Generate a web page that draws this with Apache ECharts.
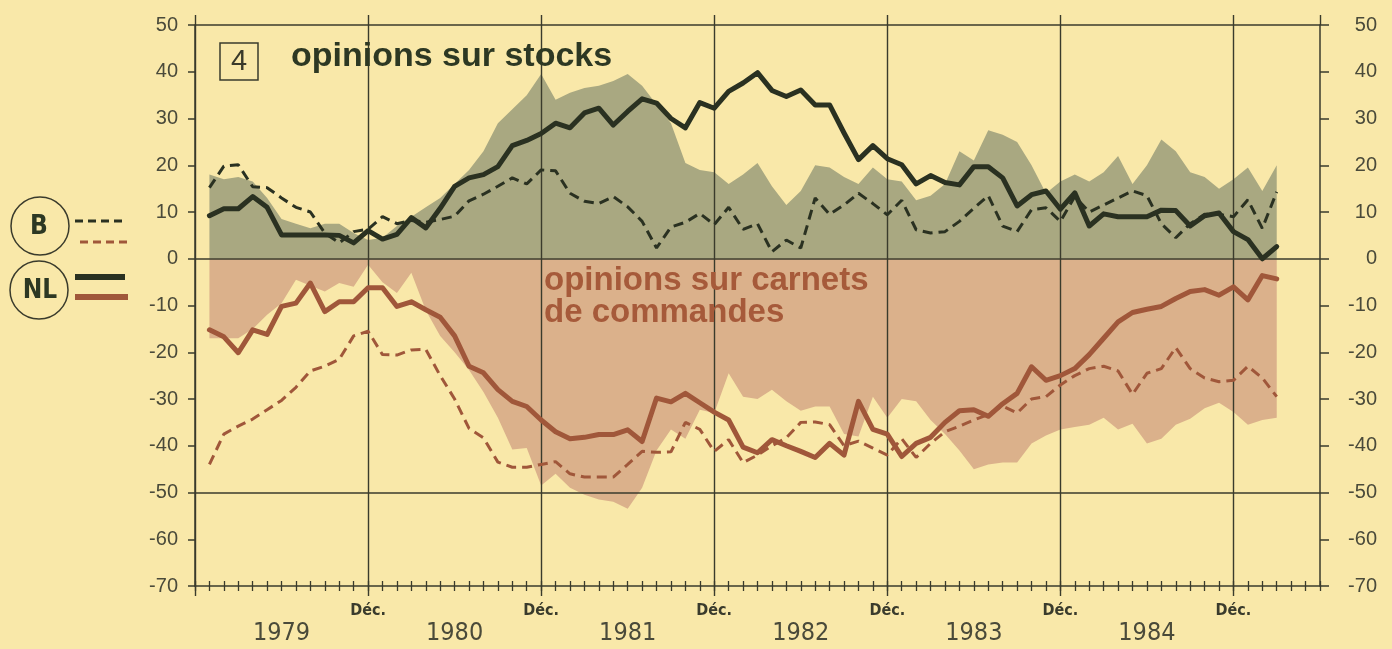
<!DOCTYPE html>
<html>
<head>
<meta charset="utf-8">
<script src="https://cdn.jsdelivr.net/npm/echarts@6/dist/echarts.min.js"></script>
<style>
html,body{margin:0;padding:0;background:#f9e8a9;}
#chart{width:1392px;height:649px;}
</style>
</head>
<body>
<div id="chart"></div>
<script>
// ---- Data (monthly, Jan 1979 .. Mar 1985) ----
const yearLabels = ['1979', '1980', '1981', '1982', '1983', '1984'];
const yTicks = [-70, -60, -50, -40, -30, -20, -10, 0, 10, 20, 30, 40, 50];

// shaded area: opinions sur stocks (upper, green)
const stocksArea = [
  18, 17, 17.5, 16.5, 13, 8.5, 7.5, 6.5, 7.5, 7.5, 5.5, 4,
  4.5, 7, 9, 11, 13, 16, 19, 23, 29, 32, 35, 39.5,
  34, 35.5, 36.5, 37, 38, 39.5, 37, 33, 29, 20.5, 19, 18.5,
  16, 18, 20.5, 15.5, 11.5, 14.5, 20, 19.5, 17.5, 16, 19.5, 17,
  16.5, 12.5, 13.5, 16, 23, 21, 27.5, 26.5, 25, 20, 14, 16.5,
  18, 16.5, 18.5, 22, 16, 20, 25.5, 23, 18.5, 17.5, 15, 17,
  19.5, 14.5, 20
];
// shaded area: opinions sur carnets de commandes (lower, brown)
const carnetsArea = [
  -17, -17, -17, -15, -12, -9.5, -4.5, -5.8, -7, -5.2, -6, -1.3,
  -5, -7.3, -3, -11, -16.5, -20, -23.8, -28.5, -34, -40.8, -40.5, -48.5,
  -46, -49, -50.5, -51.5, -52, -53.5, -49, -41, -36.5, -38.5, -32.3, -33,
  -24.5, -29.5, -30, -28, -30.5, -32.5, -31.6, -31.6, -37.5, -38, -29.5, -34,
  -30, -30.5, -34.5, -37.5, -41, -45, -44, -43.6, -43.6, -39.5, -37.8, -36.5,
  -36, -35.5, -34, -36.5, -35.3, -39.5, -38.5, -35.5, -34.2, -32, -30.8, -32.8,
  -35.5, -34.5, -34
];
// NL - stocks (solid black)
const stocksNL = [
  9.2, 10.7, 10.7, 13.3, 11, 5.1, 5.1, 5.1, 5.1, 5, 3.4, 6,
  4.2, 5.2, 8.8, 6.6, 10.8, 15.5, 17.3, 18, 19.7, 24.2, 25.3, 26.8,
  29, 28, 31.2, 32.2, 28.6, 31.5, 34.2, 33.3, 30, 28, 33.4, 32.2,
  35.8, 37.6, 39.8, 36, 34.7, 36.1, 32.9, 32.9, 26.9, 21.2, 24.2, 21.4,
  20.1, 16, 17.8, 16.3, 15.8, 19.7, 19.7, 17.3, 11.3, 13.7, 14.5, 10.6,
  14.1, 7, 9.6, 9, 9, 9, 10.4, 10.3, 7, 9.2, 9.8, 5.8,
  4.1, 0, 2.6
];
// B - stocks (dashed black)
const stocksB = [
  15.2, 19.8, 20.1, 15.4, 15.2, 13, 11, 10, 5.5, 3.4, 5.8, 6.3,
  9, 7.5, 8.2, 7.8, 8.4, 9.1, 12.4, 13.8, 15.5, 17.3, 16, 19,
  18.8, 14, 12.3, 11.8, 13.3, 11.1, 8, 2.3, 6.8, 7.8, 9.7, 7.3,
  11, 6.3, 7.5, 1.5, 4, 2.3, 13, 9.5, 11.5, 14, 11.8, 9.4,
  12.5, 6.2, 5.5, 5.8, 8, 10.8, 13.5, 7, 5.8, 10.5, 10.9, 8,
  13.3, 10, 11.5, 13, 14.5, 13.5, 7.5, 4.5, 7.5, 9.5, 9.5, 9,
  12.6, 6.5, 14.3
];
// NL - carnets de commandes (solid brown)
const carnetsNL = [
  -15.2, -16.7, -20.1, -15.2, -16.2, -10.2, -9.5, -5.2, -11.3, -9.2, -9.2, -6.2,
  -6.2, -10.2, -9.2, -10.9, -12.5, -16.5, -23, -24.4, -28, -30.5, -31.6, -34.5,
  -37, -38.5, -38.2, -37.6, -37.6, -36.6, -39.1, -29.8, -30.6, -28.8, -30.8, -32.8,
  -34.5, -40.3, -41.5, -38.7, -40, -41.2, -42.5, -39.5, -42, -30.5, -36.5, -37.5,
  -42.3, -39.5, -38.2, -35, -32.5, -32.3, -33.7, -31, -28.8, -23.1, -26, -25,
  -23.5, -20.5, -17, -13.5, -11.5, -10.8, -10.2, -8.5, -7, -6.6, -7.8, -6,
  -8.8, -3.6, -4.3
];
// B - carnets de commandes (dashed brown)
const carnetsB = [
  -44, -37.5, -35.8, -34.3, -32.3, -30.3, -27.5, -24, -23, -21.5, -16.5, -15.5,
  -20.5, -20.6, -19.5, -19.4, -25, -30, -36.3, -38.3, -43.5, -44.6, -44.6, -44,
  -43.4, -46, -46.7, -46.7, -46.7, -44, -41.2, -41.4, -41.3, -35, -36.5, -41.2,
  -38.7, -43.6, -42, -40, -38.3, -35, -34.9, -35.5, -40, -39, -40.5, -42,
  -38.5, -42.5, -39.5, -37, -35.8, -34.5, -33.3, -31.5, -33, -30, -29.5, -27,
  -25, -23.5, -23, -24, -29, -24.5, -23.5, -19, -23.5, -25.5, -26.3, -26,
  -23, -25.5, -29.5
];

// ---- Category axis: Dec 1978 .. Jun 1985 (79 months) ----
const monthNames = ['Déc.', 'janv.', 'févr.', 'mars', 'avr.', 'mai', 'juin', 'juil.', 'août', 'sept.', 'oct.', 'nov.'];
const categories = [];
for (let i = 0; i <= 78; i++) {
  categories.push(monthNames[i % 12] + ' ' + (1978 + Math.ceil(i / 12)));
}
function pad(arr) { return [null].concat(arr, [null, null, null]); }

const INK = '#3a3b2c';
const BLACK = '#2a3121';
const BROWN = '#a0573a';
const GREEN_FILL = '#a9a881';
const BROWN_FILL = '#dbb18b';
const narrow = "'Liberation Sans Narrow', 'DejaVu Sans Condensed', 'Liberation Sans', sans-serif";
const sans = "'Liberation Sans', Arial, sans-serif";

const isDec = (i) => i % 12 === 0;

const chart = echarts.init(document.getElementById('chart'), null, { renderer: 'canvas' });
const option = {
  backgroundColor: '#f9e8a9',
  animation: false,
  grid: { left: 195, right: 72, top: 25, bottom: 63, containLabel: false },
  xAxis: [
    { // main bottom axis: monthly ticks outward, Déc. labels, Dec grid lines
      type: 'category', position: 'bottom', data: categories, boundaryGap: false, z: 2,
      axisLine: { show: true, onZero: false, lineStyle: { color: INK, width: 1.5 } },
      axisTick: { show: true, interval: 0, length: 5, lineStyle: { color: INK, width: 1.3 } },
      axisLabel: {
        interval: (i) => isDec(i) && i > 0, formatter: () => 'Déc.',
        margin: 17, color: INK, fontFamily: narrow, fontWeight: 'bold', fontSize: 16
      },
      splitLine: { show: true, interval: (i) => isDec(i), lineStyle: { color: INK, width: 1.4 } }
    },
    { // inward monthly ticks + year labels
      type: 'category', position: 'bottom', data: categories, boundaryGap: false, z: 2,
      axisLine: { show: false, onZero: false },
      axisTick: { show: true, inside: true, interval: 0, length: 5, lineStyle: { color: INK, width: 1.3 } },
      axisLabel: {
        interval: (i) => i % 12 === 6, formatter: (v, i) => yearLabels[(i - 6) / 12],
        margin: 35, color: '#4a4a3a', fontFamily: narrow, fontSize: 25
      },
      splitLine: { show: false }
    },
    { // long December ticks below the axis
      type: 'category', position: 'bottom', data: categories, boundaryGap: false, z: 2,
      axisLine: { show: false, onZero: false },
      axisTick: { show: true, interval: (i) => isDec(i), length: 10, lineStyle: { color: INK, width: 1.4 } },
      axisLabel: { show: false }, splitLine: { show: false }
    },
    { // extensions of the vertical lines above the top line
      type: 'category', position: 'top', data: categories, boundaryGap: false, z: 2,
      axisLine: { show: false, onZero: false },
      axisTick: { show: true, interval: (i) => isDec(i) || i === 78, length: 10, lineStyle: { color: INK, width: 1.4 } },
      axisLabel: { show: false }, splitLine: { show: false }
    }
  ],
  yAxis: [
    {
      type: 'value', position: 'left', min: yTicks[0], max: yTicks[yTicks.length - 1], interval: 10, z: 2,
      axisLine: { show: true, onZero: false, lineStyle: { color: INK, width: 1.5 } },
      axisTick: { show: true, length: 7, lineStyle: { color: INK, width: 1.5 } },
      axisLabel: { margin: 17, color: '#4a4a3a', fontFamily: sans, fontSize: 20 },
      splitLine: {
        show: true,
        lineStyle: { color: ['rgba(0,0,0,0)', 'rgba(0,0,0,0)', INK, 'rgba(0,0,0,0)', 'rgba(0,0,0,0)'], width: 1.5 }
      }
    },
    {
      type: 'value', position: 'right', min: yTicks[0], max: yTicks[yTicks.length - 1], interval: 10, z: 2,
      axisLine: { show: true, onZero: false, lineStyle: { color: INK, width: 1.5 } },
      axisTick: { show: true, length: 9, lineStyle: { color: INK, width: 1.5 } },
      axisLabel: { margin: 57, align: 'right', color: '#4a4a3a', fontFamily: sans, fontSize: 20 },
      splitLine: { show: false }
    }
  ],
  series: [
    {
      name: 'stocks (zone)', type: 'line', data: pad(stocksArea), symbol: 'none', z: 1,
      lineStyle: { width: 0, opacity: 0 }, areaStyle: { color: GREEN_FILL, opacity: 1 }
    },
    {
      name: 'carnets (zone)', type: 'line', data: pad(carnetsArea), symbol: 'none', z: 1,
      lineStyle: { width: 0, opacity: 0 }, areaStyle: { color: BROWN_FILL, opacity: 1 }
    },
    {
      name: 'B stocks', type: 'line', data: pad(stocksB), symbol: 'none', z: 3,
      lineStyle: { color: BLACK, width: 3, type: [10, 6] }
    },
    {
      name: 'B carnets', type: 'line', data: pad(carnetsB), symbol: 'none', z: 3,
      lineStyle: { color: BROWN, width: 3, type: [10, 6] }
    },
    {
      name: 'NL stocks', type: 'line', data: pad(stocksNL), symbol: 'none', z: 4,
      lineStyle: { color: BLACK, width: 5, join: 'round', cap: 'round' }
    },
    {
      name: 'NL carnets', type: 'line', data: pad(carnetsNL), symbol: 'none', z: 4,
      lineStyle: { color: BROWN, width: 5, join: 'round', cap: 'round' }
    }
  ],
  graphic: [
    // boxed number
    { type: 'rect', shape: { x: 220, y: 43, width: 38, height: 37 }, style: { fill: 'none', stroke: INK, lineWidth: 1.5 }, z: 10 },
    { type: 'text', x: 239, y: 62, style: { text: '4', fontFamily: sans, fontSize: 29, fill: '#3a3a2a', align: 'center', verticalAlign: 'middle' }, z: 10 },
    // titles
    { type: 'text', x: 291, y: 57, style: { text: 'opinions sur stocks', fontFamily: sans, fontWeight: 'bold', fontSize: 34, fill: '#2d3823', verticalAlign: 'middle' }, z: 10 },
    { type: 'text', x: 544, y: 281, style: { text: 'opinions sur carnets', fontFamily: sans, fontWeight: 'bold', fontSize: 33, fill: '#a65a3a', verticalAlign: 'middle' }, z: 10 },
    { type: 'text', x: 544, y: 313, style: { text: 'de commandes', fontFamily: sans, fontWeight: 'bold', fontSize: 33, fill: '#a65a3a', verticalAlign: 'middle' }, z: 10 },
    // legend
    { type: 'circle', shape: { cx: 40, cy: 226, r: 29 }, style: { fill: 'none', stroke: INK, lineWidth: 1.5 } },
    { type: 'text', x: 39, y: 227, style: { text: 'B', fontFamily: narrow, fontWeight: 'bold', fontSize: 26, fill: '#2d3823', align: 'center', verticalAlign: 'middle' } },
    { type: 'circle', shape: { cx: 39, cy: 290, r: 29 }, style: { fill: 'none', stroke: INK, lineWidth: 1.5 } },
    { type: 'text', x: 40, y: 291, style: { text: 'NL', fontFamily: narrow, fontWeight: 'bold', fontSize: 26, fill: '#2d3823', align: 'center', verticalAlign: 'middle' } },
    { type: 'line', shape: { x1: 75, y1: 221, x2: 124, y2: 221 }, style: { stroke: BLACK, lineWidth: 3, lineDash: [8, 5] } },
    { type: 'line', shape: { x1: 80, y1: 242, x2: 128, y2: 242 }, style: { stroke: BROWN, lineWidth: 3, lineDash: [8, 5] } },
    { type: 'line', shape: { x1: 75, y1: 277, x2: 125, y2: 277 }, style: { stroke: BLACK, lineWidth: 6 } },
    { type: 'line', shape: { x1: 75, y1: 297, x2: 128, y2: 297 }, style: { stroke: BROWN, lineWidth: 6 } }
  ]
};
chart.setOption(option);
</script>
</body>
</html>
